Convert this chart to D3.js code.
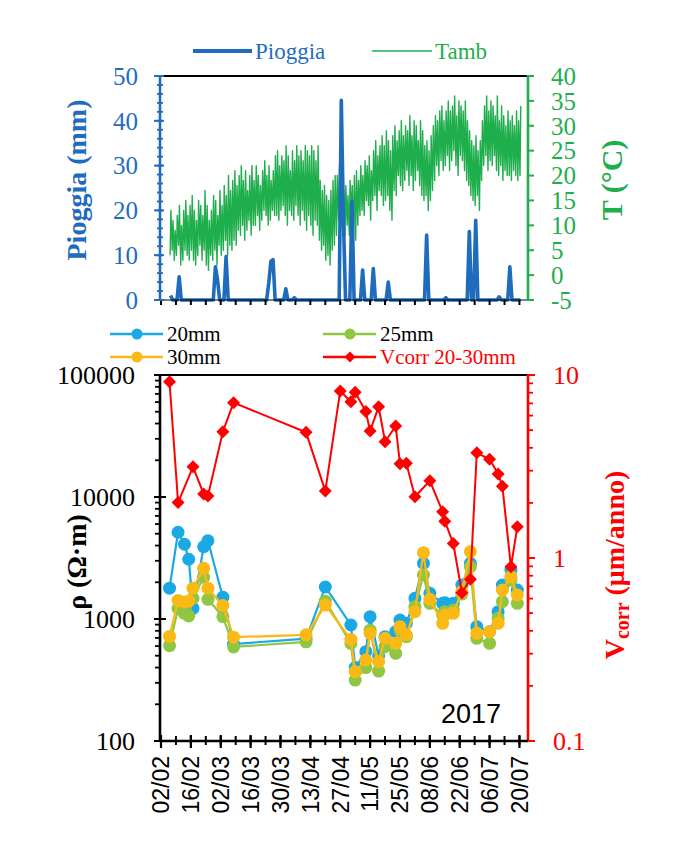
<!DOCTYPE html>
<html><head><meta charset="utf-8">
<script src="https://cdn.jsdelivr.net/npm/d3@7"></script>
<style>body{margin:0;background:#fff}svg{display:block}</style>
</head><body><svg id="c" width="700" height="843"></svg>
<script>
// ---------------- DATA ----------------
const axisStart = "2017-02-02", axisEnd = "2017-07-24";
const dailyStart = "2017-02-06";
// daily rainfall (mm), from 06/02
const rain = [
 1.0,0,0,0,5.2,0,0,0,0,0,
 0,0,0,0,0,0,0,0,0,0,
 0,7.4,4.5,0,0,0,9.7,0,0,0,
 0,0,0,0,0,0,0,0,0,0,
 0,0,0,0,0,0,3.8,8.6,9.0,0,
 0,0,0,0,2.5,0,0,0,0.5,0,
 0,0,0,0,0,0,0,0,0,0,
 0,0,0,0,0,0,0,0,0,0,
 44.6,17.8,0,0,0,22.0,0,0,0,0,
 6.7,0,0,0,0,7.0,0,0,0,0,
 0,0,4.0,0,0,0,0,0,0,0,
 0,0,0,0,0,0,0,0,0,0,
 14.5,0,0,0,0,0,0,0,0,0.5,
 0,0,0,0,0,0,0,0,0,0,
 15.3,0,0,17.8,0,0,0,0,0,0,
 0,0,0,0,0.7,0,0,0,0,7.4,
 0,0,0,0,0];
// daily max / min air temperature (°C), from 06/02
const tempMax = [
 13,11,9,12,14,10,13,15,12,14,
 16,13,11,15,14,12,17,14,11,13,
 16,15,12,17,14,18,16,20,17,19,
 21,18,20,22,19,21,17,20,22,19,
 22,20,18,21,23,20,22,19,21,24,
 25,22,24,23,26,24,21,25,23,26,
 24,25,23,26,25,24,26,25,23,26,
 19,17,18,16,15,17,19,20,20,22,
 19,17,18,16,19,18,20,21,19,22,
 20,23,22,24,21,25,27,24,26,28,
 26,29,27,25,28,30,27,29,31,28,
 30,29,32,28,31,30,27,31,29,26,
 27,25,28,30,32,31,33,34,31,33,
 35,33,34,36,32,35,34,33,35,31,
 29,27,26,28,25,27,31,34,36,33,
 35,34,32,36,31,34,32,30,33,31,
 32,30,33,31,34];
const tempMin = [
 4,5,3,4,6,2,3,5,4,3,
 5,3,2,4,6,3,5,2,1,4,
 3,5,2,6,4,5,7,4,6,5,
 7,6,9,8,10,7,9,11,8,10,
 10,12,9,11,13,12,10,11,13,12,
 12,11,13,14,12,10,13,12,11,14,
 12,10,13,11,9,12,10,8,11,10,
 7,5,6,3,4,2,5,6,8,11,
 11,9,8,10,8,12,8,7,10,12,
 13,12,15,14,11,15,16,13,17,16,
 14,15,16,13,11,17,16,20,18,17,
 19,21,18,20,17,19,21,18,16,15,
 16,13,15,17,19,22,20,23,21,22,
 24,21,23,25,22,20,24,23,21,19,
 18,16,15,14,16,13,19,22,24,21,
 23,22,24,21,20,22,19,21,20,20,
 19,21,20,19,20];
// measurement dates (resistivity and corrosion rate)
const sampleDates = ["2017-02-06","2017-02-10","2017-02-13","2017-02-15","2017-02-17","2017-02-22","2017-02-24","2017-03-03","2017-03-08","2017-04-11","2017-04-20","2017-04-27","2017-05-02","2017-05-04","2017-05-09","2017-05-11","2017-05-15","2017-05-18","2017-05-23","2017-05-25","2017-05-28","2017-06-01","2017-06-05","2017-06-08","2017-06-14","2017-06-15","2017-06-19","2017-06-23","2017-06-27","2017-06-30","2017-07-06","2017-07-10","2017-07-12","2017-07-16","2017-07-19"];
const rho20 = [1790,5140,4100,3090,1220,3910,4380,1510,624,690,1830,null,893,400,540,1045,500,716,787,981,921,1477,2860,1623,1344,1360,1344,1899,2860,865,787,1148,1899,2521,1728];
const rho25 = [605,1220,1110,1060,1480,2200,1450,1045,590,650,1400,null,630,316,400,810,374,593,523,812,716,1262,2295,1344,1079,1148,1185,1600,2685,694,632,1012,1386,2087,1344];
const rho30 = [720,1420,1380,1400,1790,2600,1790,1290,709,742,1300,null,680,370,461,763,447,694,632,865,739,1148,3497,1449,921,1079,1113,1675,3565,763,787,921,1728,2223,1573];
const vcorr = [9.19,2.01,null,null,3.15,2.24,2.18,4.90,7.06,4.86,2.32,8.18,7.15,8.04,6.31,4.94,6.71,4.32,5.26,3.27,3.29,2.16,null,2.64,1.79,1.59,1.20,0.646,0.766,3.76,3.46,2.88,2.47,0.895,1.48];
const xTickLabels = ["02/02","16/02","02/03","16/03","30/03","13/04","27/04","11/05","25/05","08/06","22/06","06/07","20/07"];
const rainTicks = [0,10,20,30,40,50];
const tempTicks = [-5,0,5,10,15,20,25,30,35,40];
const rhoTicks = [100,1000,10000,100000];
const vcorrTicks = [0.1,1,10];
const yearLabel = "2017";

// ---------------- STYLE ----------------
const C = {rain:"#1f6cbf", temp:"#1fae4c", r20:"#1ba9e6", r25:"#8fc742", r30:"#fbb916", red:"#ff0000"};
const serif = "'Liberation Serif','Times New Roman',serif";
const sans = "'Liberation Sans',Arial,sans-serif";

const svg = d3.select("#c");
const parse = d3.timeParse("%Y-%m-%d");
const L = 161, R = 528;
const x = d3.scaleTime().domain([parse(axisStart), parse(axisEnd)]).range([L, R]);
const yRain = d3.scaleLinear().domain([0,50]).range([300,76]);
const yTemp = d3.scaleLinear().domain([-5,40]).range([300,76]);
const yRho = d3.scaleLog().domain([100,100000]).range([741,375]);
const yV = d3.scaleLog().domain([0.1,10]).range([741,375]);

const d0 = parse(dailyStart);
const weekly = d3.range(0, 169, 7).map(d => d3.timeDay.offset(parse(axisStart), d));
const labelDates = xTickLabels.map(s => d3.timeParse("%d/%m/%Y")(s + "/2017"));

function line(g, x1, y1, x2, y2, col, w) {
  g.append("line").attr("x1",x1).attr("y1",y1).attr("x2",x2).attr("y2",y2)
   .attr("stroke",col).attr("stroke-width",w);
}

// ================= TOP CHART =================
const gTop = svg.append("g");
const tempPts = [];
tempMin.forEach((v,i) => {
  const day = d3.timeDay.offset(d0, i);
  tempPts.push({t: d3.timeHour.offset(day, 6), v: v});
  tempPts.push({t: d3.timeHour.offset(day, 15), v: tempMax[i]});
});
gTop.append("path").datum(tempPts)
  .attr("d", d3.line().x(d => x(d.t)).y(d => yTemp(d.v)))
  .attr("fill","none").attr("stroke",C.temp).attr("stroke-width",1.4).attr("stroke-linejoin","round");
gTop.append("path").datum(rain.map((v,i) => ({t: d3.timeHour.offset(d3.timeDay.offset(d0,i),12), v})))
  .attr("d", d3.line().x(d => x(d.t)).y(d => yRain(d.v)))
  .attr("fill","none").attr("stroke",C.rain).attr("stroke-width",3.6).attr("stroke-linejoin","round");

line(gTop, L-1, 76, R, 76, "#000", 2.2);
weekly.forEach(d => line(gTop, x(d), 300, x(d), 305, "#000", 2));
line(gTop, L, 300, R, 300, "#000", 1);
line(gTop, L-1, 75, L-1, 301, C.rain, 2.6);
d3.range(0, 51, 2).forEach(v => line(gTop, L-4, yRain(v), L+2, yRain(v), C.rain, 1.8));
rainTicks.forEach(v => {
  line(gTop, L-7, yRain(v), L+3, yRain(v), C.rain, 2);
  gTop.append("text").attr("x", 138).attr("y", yRain(v)).attr("dy","0.35em")
    .attr("text-anchor","end").attr("font-family",serif).attr("font-size",25).attr("fill",C.rain).text(v);
});
line(gTop, R, 75, R, 301, C.temp, 2.6);
tempTicks.forEach(v => {
  line(gTop, R, yTemp(v), R+6, yTemp(v), C.temp, 2);
  gTop.append("text").attr("x", 551).attr("y", yTemp(v)).attr("dy","0.35em")
    .attr("font-family",serif).attr("font-size",25).attr("fill",C.temp).text(v);
});
gTop.append("text").attr("transform","translate(86,180) rotate(-90)").attr("text-anchor","middle")
  .attr("font-family",serif).attr("font-weight","bold").attr("font-size",28).attr("fill",C.rain).text("Pioggia (mm)");
gTop.append("text").attr("transform","translate(622,180) rotate(-90)").attr("text-anchor","middle")
  .attr("font-family",serif).attr("font-weight","bold").attr("font-size",30).attr("fill",C.temp).text("T (°C)");
line(gTop, 193, 51, 252, 51, C.rain, 4);
gTop.append("text").attr("x",255).attr("y",51).attr("dy","0.35em").attr("font-family",serif)
  .attr("font-size",23).attr("fill",C.rain).text("Pioggia");
line(gTop, 372, 51, 432, 51, C.temp, 1.5);
gTop.append("text").attr("x",435).attr("y",51).attr("dy","0.35em").attr("font-family",serif)
  .attr("font-size",23).attr("fill",C.temp).text("Tamb");

// ================= BOTTOM CHART =================
const gBot = svg.append("g");
const diamond = "M0,-6.5L6.5,0L0,6.5L-6.5,0Z";
function seriesPts(vals) {
  return sampleDates.map((d,i) => ({t: parse(d), v: vals[i]})).filter(p => p.v != null);
}
[[rho20,C.r20],[rho25,C.r25],[rho30,C.r30]].forEach(([vals,col]) => {
  const pts = seriesPts(vals);
  gBot.append("path").datum(pts).attr("d", d3.line().x(d => x(d.t)).y(d => yRho(d.v)))
    .attr("fill","none").attr("stroke",col).attr("stroke-width",2.2);
  gBot.selectAll(null).data(pts).enter().append("circle")
    .attr("cx", d => x(d.t)).attr("cy", d => yRho(d.v)).attr("r", 6.5).attr("fill", col);
});
{
  const pts = seriesPts(vcorr);
  gBot.append("path").datum(pts).attr("d", d3.line().x(d => x(d.t)).y(d => yV(d.v)))
    .attr("fill","none").attr("stroke",C.red).attr("stroke-width",2);
  gBot.selectAll(null).data(pts).enter().append("path").attr("d", diamond)
    .attr("transform", d => `translate(${x(d.t)},${yV(d.v)})`).attr("fill", C.red);
}
line(gBot, L-1, 375, R, 375, "#000", 2.2);
line(gBot, L-1, 374, L-1, 742, "#000", 2.6);
[100,1000,10000].forEach(dec => d3.range(2,10).forEach(k => line(gBot, L-6, yRho(dec*k), L, yRho(dec*k), "#000", 1.8)));
rhoTicks.forEach(v => {
  line(gBot, L-7, yRho(v), L+5, yRho(v), "#000", 2);
  gBot.append("text").attr("x",135).attr("y",yRho(v)).attr("dy","0.35em").attr("text-anchor","end")
    .attr("font-family",serif).attr("font-size",26).attr("fill","#000").text(v);
});
line(gBot, R, 374, R, 742, C.red, 2.6);
[0.1,1].forEach(dec => d3.range(2,10).forEach(k => line(gBot, R, yV(dec*k), R+5, yV(dec*k), C.red, 1.8)));
vcorrTicks.forEach(v => {
  line(gBot, R, yV(v), R+7, yV(v), C.red, 2);
  gBot.append("text").attr("x",553).attr("y",yV(v)).attr("dy","0.35em")
    .attr("font-family",serif).attr("font-size",26).attr("fill",C.red).text(v);
});
line(gBot, L-1, 741, R, 741, "#000", 2.6);
weekly.forEach(d => line(gBot, x(d), 736, x(d), 745, "#000", 2));
labelDates.forEach((d,i) => {
  line(gBot, x(d), 735, x(d), 748, "#000", 2.2);
  gBot.append("text").attr("transform",`translate(${x(d)},756) rotate(-90)`).attr("dy","0.36em")
    .attr("text-anchor","end").attr("font-family",sans).attr("font-size",23).attr("fill","#000").text(xTickLabels[i]);
});
gBot.append("text").attr("x",441).attr("y",723).attr("font-family",sans).attr("font-size",27).attr("fill","#000").text(yearLabel);
gBot.append("text").attr("transform","translate(86,562) rotate(-90)").attr("text-anchor","middle")
  .attr("font-family",serif).attr("font-weight","bold").attr("font-size",28).attr("fill","#000").text("ρ (Ω·m)");
{
  const t = gBot.append("text").attr("transform","translate(624,565) rotate(-90)").attr("text-anchor","middle")
    .attr("font-family",serif).attr("font-weight","bold").attr("font-size",28).attr("fill",C.red);
  t.append("tspan").text("V");
  t.append("tspan").attr("font-size",20).attr("dy",5).text("corr");
  t.append("tspan").attr("dy",-5).text(" (μm/anno)");
}
const leg = [
  {lab:"20mm", col:C.r20, x:110, y:334, m:"c"},
  {lab:"25mm", col:C.r25, x:323, y:334, m:"c"},
  {lab:"30mm", col:C.r30, x:110, y:357, m:"c"},
  {lab:"Vcorr 20-30mm", col:C.red, x:323, y:357, m:"d"}
];
leg.forEach(l => {
  line(gBot, l.x, l.y, l.x+53, l.y, l.col, 2.5);
  if (l.m === "c") gBot.append("circle").attr("cx", l.x+27).attr("cy", l.y).attr("r", 5.5).attr("fill", l.col);
  else gBot.append("path").attr("d", "M0,-5.5L5.5,0L0,5.5L-5.5,0Z").attr("transform",`translate(${l.x+27},${l.y})`).attr("fill", l.col);
  gBot.append("text").attr("x", l.x+57).attr("y", l.y).attr("dy","0.35em").attr("font-family",serif)
    .attr("font-size",21).attr("fill", l.col === C.red ? C.red : "#000").text(l.lab);
});
</script></body></html>
